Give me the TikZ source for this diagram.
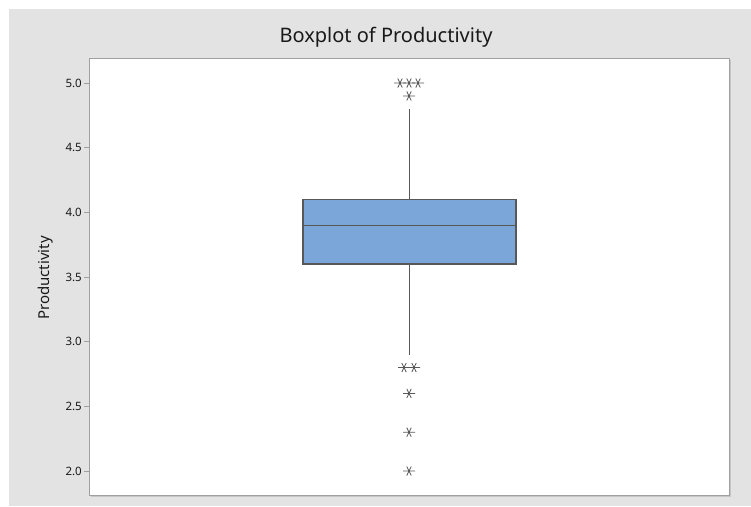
\documentclass[tikz,border=0pt]{standalone}
\usepackage{fontspec}
\setmainfont{Noto Sans}
\usetikzlibrary{calc}
\definecolor{BackClr}{RGB}{227,227,227}
\definecolor{FrameClr}{RGB}{160,160,160}
\definecolor{BoxClr}{RGB}{123,166,217}
\definecolor{LineClr}{RGB}{88,88,88}
\definecolor{TextClr}{RGB}{25,25,25}
\tikzset{
  whisker/.style={draw=LineClr,line width=1pt},
  boxbody/.style={fill=BoxClr,draw=LineClr,line width=1.3pt},
  outstar/.style={draw=LineClr,line width=0.8pt},
  ticklbl/.style={anchor=east,text=TextClr,inner sep=0pt,font=\fontsize{11.5}{13}\selectfont},
}
\newcommand{\OutStar}[1]{\draw[outstar] (#1) +(-6,0) -- +(6,0) +(-2.2,-4.5) -- +(2.2,4.5) +(-2.2,4.5) -- +(2.2,-4.5);}

\begin{document}
\begin{tikzpicture}[x=1pt,y=-1pt]
\useasboundingbox (0,0) rectangle (751,506);
\fill[white] (0,0) rectangle (751,506);
\fill[BackClr] (9,9) rectangle (751,506);
\fill[white] (89,58) rectangle (729,495);
\draw[FrameClr!60,line width=1pt] (90.5,496.5) -- (730.5,496.5) -- (730.5,59.5);
\draw[FrameClr,line width=1pt] (89,58) rectangle (729,495);

\node[anchor=base,text=TextClr,font=\fontsize{20}{22}\selectfont] (title) at (386,42) {Boxplot of Productivity};
\node[rotate=90,text=TextClr,font=\fontsize{15}{17}\selectfont] (ylbl) at (46,278) {Productivity};

\begin{scope}[shift={(0,729.67)},y=129.33pt]
\foreach \v [count=\i] in {2.0,2.5,3.0,3.5,4.0,4.5,5.0}{
  \node[ticklbl] (tick\i) at (82,\v) {\v};
  \draw[FrameClr,line width=0.8pt] (84,\v) -- (89,\v);
}
\coordinate (Q1L) at (303,3.6);
\coordinate (Q3R) at (516,4.1);
\coordinate (MedL) at (303,3.9);
\coordinate (MedR) at (516,3.9);
\coordinate (Q3) at (409,4.1);
\coordinate (Q1) at (409,3.6);
\coordinate (Top) at (409,4.8);
\coordinate (Bot) at (409,2.9);
\coordinate (O1) at (400,5.0);
\coordinate (O2) at (409,5.0);
\coordinate (O3) at (418,5.0);
\coordinate (O4) at (409,4.9);
\coordinate (O5) at (404,2.8);
\coordinate (O6) at (414,2.8);
\coordinate (O7) at (409,2.6);
\coordinate (O8) at (409,2.3);
\coordinate (O9) at (409,2.0);
\end{scope}

\draw[whisker] (Q3) -- (Top);
\draw[whisker] (Q1) -- (Bot);
\draw[boxbody] (Q1L) rectangle (Q3R);
\draw[whisker,line width=1.3pt] (MedL) -- (MedR);

\foreach \p in {O1,O2,O3,O4,O5,O6,O7,O8,O9}{\OutStar{\p}}

\end{tikzpicture}
\end{document}
